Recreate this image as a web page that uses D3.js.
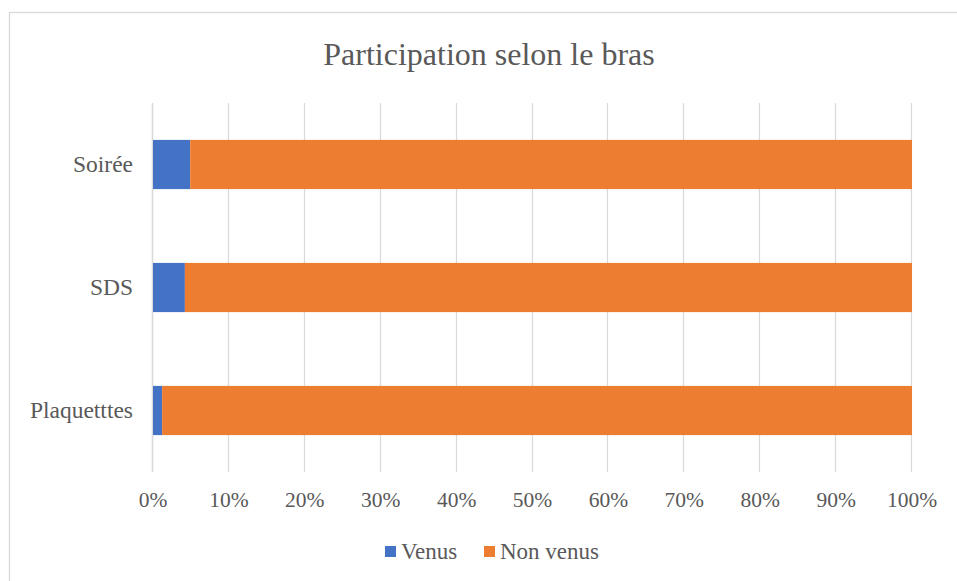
<!DOCTYPE html>
<html>
<head>
<meta charset="utf-8">
<script src="https://cdn.jsdelivr.net/npm/d3@7"></script>
<style>
  body { margin: 0; background: #fff; }
  text { font-family: "Liberation Serif", "Times New Roman", serif; fill: #595959; }
</style>
</head>
<body>
<svg width="957" height="581"></svg>
<script>
const categories = ['Soirée', 'SDS', 'Plaquetttes'];
const venus = [0.049, 0.042, 0.012];
const nonVenus = venus.map(v => 1 - v);
const seriesNames = ['Venus', 'Non venus'];
const colors = ['#4472C4', '#ED7D31'];
const ticks = [0, 0.1, 0.2, 0.3, 0.4, 0.5, 0.6, 0.7, 0.8, 0.9, 1];

const svg = d3.select('svg');

// chart frame
svg.append('rect')
  .attr('x', 9.5).attr('y', 12.5)
  .attr('width', 960).attr('height', 580)
  .attr('fill', '#fff')
  .attr('stroke', '#d9d9d9')
  .attr('stroke-width', 1.3);

const margin = { left: 153, right: 45, top: 103, bottom: 109 };
const width = 957 - margin.left - margin.right;
const height = 581 - margin.top - margin.bottom;

const x = d3.scaleLinear().domain([0, 1]).range([margin.left, margin.left + width]);
const y = d3.scaleBand().domain(categories).range([margin.top, margin.top + height]).paddingInner(0.6).paddingOuter(0.3);

// gridlines
svg.append('g')
  .selectAll('line')
  .data(ticks)
  .enter()
  .append('line')
  .attr('x1', d => Math.round(x(d)) - 0.5)
  .attr('x2', d => Math.round(x(d)) - 0.5)
  .attr('y1', margin.top)
  .attr('y2', margin.top + height)
  .attr('stroke', '#d9d9d9')
  .attr('stroke-width', d => d === 0 ? 1.6 : 1.2);

// stacked bars
const rows = categories.map((c, i) => ({ cat: c, Venus: venus[i], 'Non venus': nonVenus[i] }));
const stack = d3.stack().keys(seriesNames)(rows);

svg.append('g')
  .selectAll('g')
  .data(stack)
  .enter()
  .append('g')
  .attr('fill', (d, i) => colors[i])
  .selectAll('rect')
  .data(d => d)
  .enter()
  .append('rect')
  .attr('x', d => x(d[0]))
  .attr('width', d => x(d[1]) - x(d[0]))
  .attr('y', d => y(d.data.cat))
  .attr('height', y.bandwidth());

// x tick labels
svg.append('g')
  .selectAll('text')
  .data(ticks)
  .enter()
  .append('text')
  .attr('x', d => x(d))
  .attr('y', 507)
  .attr('text-anchor', 'middle')
  .attr('font-size', 21.5)
  .text(d => d3.format('.0%')(d));

// category labels
svg.append('g')
  .selectAll('text')
  .data(categories)
  .enter()
  .append('text')
  .attr('x', 133)
  .attr('y', d => y(d) + y.bandwidth() / 2 + 7.5)
  .attr('text-anchor', 'end')
  .attr('font-size', 23.5)
  .text(d => d);

// title
svg.append('text')
  .attr('x', 489)
  .attr('y', 65)
  .attr('text-anchor', 'middle')
  .attr('font-size', 32)
  .text('Participation selon le bras');

// legend
const legendX = [385, 484];
const legend = svg.append('g')
  .selectAll('g')
  .data(seriesNames)
  .enter()
  .append('g')
  .attr('transform', (d, i) => `translate(${legendX[i]},546)`);

legend.append('rect')
  .attr('width', 11).attr('height', 11)
  .attr('fill', (d, i) => colors[i]);

legend.append('text')
  .attr('x', 16)
  .attr('y', 13)
  .attr('font-size', 23)
  .text(d => d);
</script>
</body>
</html>
